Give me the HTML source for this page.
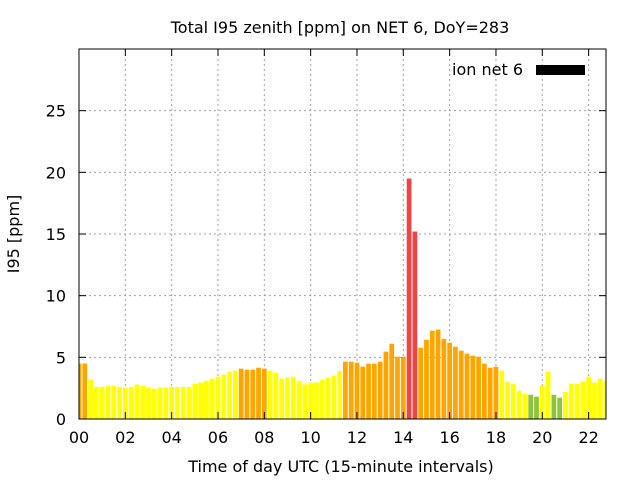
<!DOCTYPE html>
<html><head><meta charset="utf-8"><style>
body{margin:0;background:#fff;}
text{font-family:"DejaVu Sans","Liberation Sans",sans-serif;font-size:16px;fill:#000;}
</style></head><body>
<svg id="chart" width="640" height="480" xmlns="http://www.w3.org/2000/svg">
<rect width="640" height="480" fill="#fff"/>
<text x="340" y="33" text-anchor="middle">Total I95 zenith [ppm] on NET 6, DoY=283</text>
<text x="341" y="472" text-anchor="middle">Time of day UTC (15-minute intervals)</text>
<text transform="translate(19,234) rotate(-90)" text-anchor="middle">I95 [ppm]</text>
<g id="grid"></g>
<g id="bars"></g>
<g id="axes"></g>
<g>
<text x="523" y="75" text-anchor="end">ion net 6</text>
<rect x="536" y="65" width="49" height="10" fill="#000"/>
</g>
</svg>
<script>
const values=[4.5,4.5,3.2,2.6,2.6,2.7,2.7,2.6,2.55,2.6,2.8,2.7,2.55,2.45,2.55,2.55,2.6,2.6,2.6,2.6,2.85,2.95,3.1,3.27,3.43,3.6,3.84,3.92,4.08,4.0,4.0,4.16,4.08,3.92,3.76,3.27,3.35,3.43,3.1,2.8,2.95,2.95,3.2,3.35,3.5,3.9,4.65,4.65,4.57,4.24,4.49,4.49,4.65,5.46,6.1,5.05,5.05,19.5,15.2,5.78,6.43,7.16,7.25,6.5,6.19,5.86,5.54,5.3,5.14,5.05,4.49,4.16,4.24,3.92,3.03,2.86,2.3,2.05,1.97,1.81,2.7,3.84,1.97,1.73,2.2,2.86,2.86,3.03,3.43,2.95,3.27,3.1];
const yTicks=[0,5,10,15,20,25];
const xTicks=["00","02","04","06","08","10","12","14","16","18","20","22"];
const L=79,R=606,T=49,B=419,YMAX=30,HMAX=22.75;
const ns="http://www.w3.org/2000/svg";
function X(h){return L+(h/HMAX)*(R-L);}
function Y(v){return B-(v/YMAX)*(B-T);}
function mk(t,a,p){const e=document.createElementNS(ns,t);for(const k in a)e.setAttribute(k,a[k]);p.appendChild(e);return e;}
const grid=document.getElementById('grid'),bars=document.getElementById('bars'),axes=document.getElementById('axes');
yTicks.forEach(v=>{
  if(v>0){const g=mk('line',{x1:L,x2:R,y1:Y(v),y2:Y(v),stroke:'#a0a0a0','stroke-dasharray':'2,3'},grid);
  
  }
  const t=mk('text',{x:66,y:Y(v)+6,'text-anchor':'end'},axes);t.textContent=v;
  
  
  mk('line',{x1:L,x2:L+7,y1:Y(v),y2:Y(v),stroke:'#000'},axes);
  mk('line',{x1:R,x2:R-7,y1:Y(v),y2:Y(v),stroke:'#000'},axes);
});
xTicks.forEach(s=>{
  const h=parseInt(s,10),x=X(h);
  if(h>0){const g=mk('line',{x1:x,x2:x,y1:T,y2:B,stroke:'#a0a0a0','stroke-dasharray':'2,3'},grid);
  
  }
  const t=mk('text',{x:x,y:443,'text-anchor':'middle'},axes);t.textContent=s;
  
  
  mk('line',{x1:x,x2:x,y1:B,y2:B-7,stroke:'#000'},axes);
  mk('line',{x1:x,x2:x,y1:T,y2:T+7,stroke:'#000'},axes);
});
const bw=(R-L)/(HMAX*4)*0.82;
values.forEach((v,i)=>{
  const c=X(i/4);
  let x0=Math.max(L,c-bw/2),x1=Math.min(R,c+bw/2);
  const col=v<2?'#8cc43c':v<4?'#ffff00':v<10?'#ffa500':'#ef4444';
  const r=mk('rect',{x:x0,y:Y(v),width:x1-x0,height:B-Y(v),fill:col},bars);
  
  
});
const f=mk('rect',{x:L,y:T,width:R-L,height:B-T,fill:'none',stroke:'#000','stroke-width':1},axes);


</script>
</body></html>
